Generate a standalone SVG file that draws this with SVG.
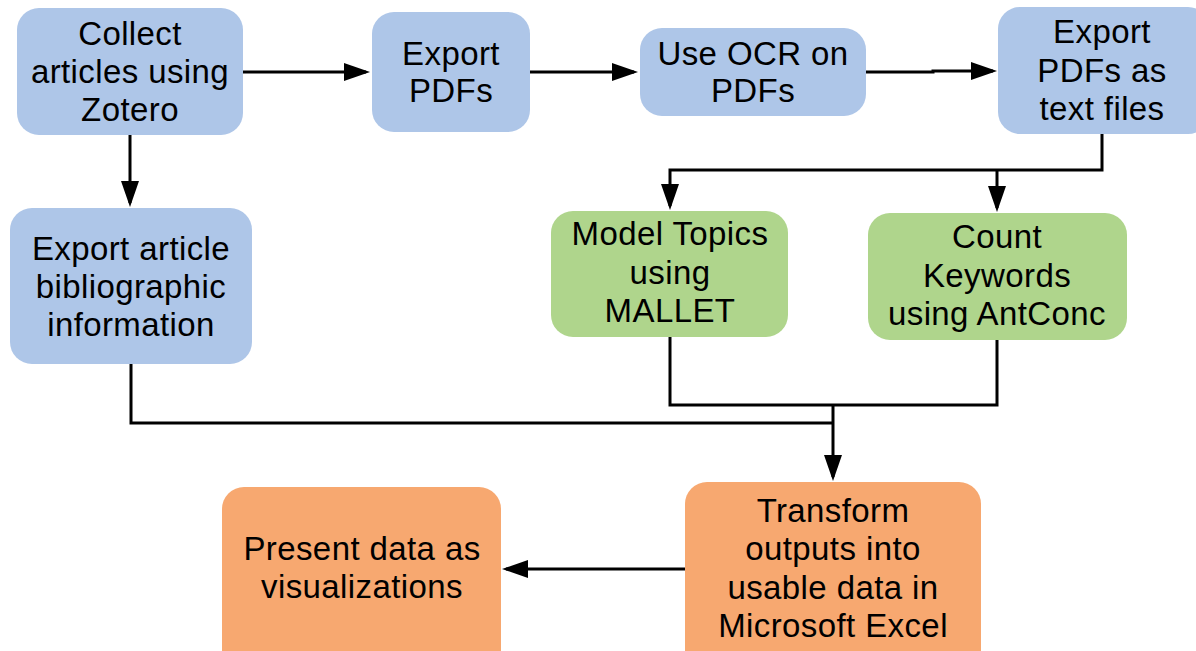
<svg xmlns="http://www.w3.org/2000/svg" width="1196" height="651" viewBox="0 0 1196 651">
<style>
.t{font-family:"Liberation Sans",Arial,sans-serif;font-size:33px;letter-spacing:0.4px;fill:#000;text-anchor:middle}
.blue{fill:#aec6e8}
.green{fill:#afd58c}
.orange{fill:#f7a870}
.c{fill:none;stroke:#000;stroke-width:3}
</style>
<defs>
<marker id="ah" markerUnits="userSpaceOnUse" markerWidth="28" markerHeight="20" refX="22" refY="9" orient="auto">
<path d="M0,0 L26,9 L0,18 z" fill="#000"/>
</marker>
</defs>
<rect width="1196" height="651" fill="#fff"/>
<g id="connectors">
<path class="c" d="M243,72 H366" marker-end="url(#ah)"/>
<path class="c" d="M530,72 H634" marker-end="url(#ah)"/>
<path class="c" d="M866,72 H933 V71 H993" marker-end="url(#ah)"/>
<path class="c" d="M130,135 V203" marker-end="url(#ah)"/>
<path class="c" d="M1102,134 V170 H670 V206" marker-end="url(#ah)"/>
<path class="c" d="M997,170 V208" marker-end="url(#ah)"/>
<path class="c" d="M670,337 V405 H997 V340"/>
<path class="c" d="M131,364 V423 H833"/>
<path class="c" d="M833,405 V477" marker-end="url(#ah)"/>
<path class="c" d="M685,569 H506" marker-end="url(#ah)"/>
</g>
<g id="collect">
<rect class="blue" x="17" y="8" width="226" height="127" rx="22"/>
<text class="t" x="130" y="45">Collect</text>
<text class="t" x="130" y="83">articles using</text>
<text class="t" x="130" y="121">Zotero</text>
</g>
<g id="export-pdfs">
<rect class="blue" x="372" y="12" width="158" height="120" rx="22"/>
<text class="t" x="451" y="65">Export</text>
<text class="t" x="451" y="102">PDFs</text>
</g>
<g id="ocr">
<rect class="blue" x="640" y="28" width="226" height="88" rx="22"/>
<text class="t" x="753" y="65">Use OCR on</text>
<text class="t" x="753" y="102">PDFs</text>
</g>
<g id="export-text">
<rect class="blue" x="998" y="7" width="212" height="127" rx="22"/>
<text class="t" x="1102" y="43">Export</text>
<text class="t" x="1102" y="82">PDFs as</text>
<text class="t" x="1102" y="120">text files</text>
</g>
<g id="bib">
<rect class="blue" x="10" y="208" width="242" height="156" rx="22"/>
<text class="t" x="131" y="260">Export article</text>
<text class="t" x="131" y="298">bibliographic</text>
<text class="t" x="131" y="336">information</text>
</g>
<g id="mallet">
<rect class="green" x="551" y="211" width="237" height="126" rx="22"/>
<text class="t" x="670" y="245">Model Topics</text>
<text class="t" x="670" y="284">using</text>
<text class="t" x="670" y="322">MALLET</text>
</g>
<g id="antconc">
<rect class="green" x="868" y="213" width="259" height="127" rx="22"/>
<text class="t" x="997" y="248">Count</text>
<text class="t" x="997" y="287">Keywords</text>
<text class="t" x="997" y="325">using AntConc</text>
</g>
<g id="transform">
<rect class="orange" x="685" y="482" width="296" height="200" rx="22"/>
<text class="t" x="833" y="522">Transform</text>
<text class="t" x="833" y="560">outputs into</text>
<text class="t" x="833" y="599">usable data in</text>
<text class="t" x="833" y="637">Microsoft Excel</text>
</g>
<g id="present">
<rect class="orange" x="222" y="487" width="279" height="190" rx="22"/>
<text class="t" x="362" y="560">Present data as</text>
<text class="t" x="362" y="598">visualizations</text>
</g>
</svg>
